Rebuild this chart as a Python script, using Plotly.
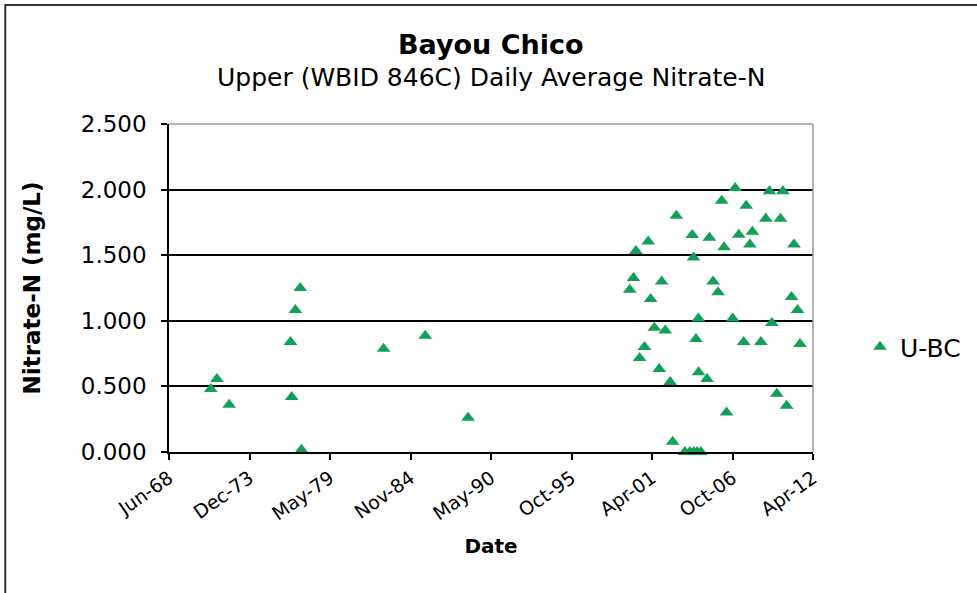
import plotly.graph_objects as go
from datetime import date, timedelta

# ---- data ----
sample_dates = [
    "1971-04-15", "1971-09-15", "1972-07-15", "1976-09-15", "1976-10-15",
    "1977-01-15", "1977-05-15", "1977-06-15", "1983-01-15", "1985-11-15",
    "1988-10-15",
    "2006-12-15", "2009-04-15", "2010-03-15", "2006-01-15", "2007-09-15",
    "2002-12-15", "2009-01-15", "2010-01-15", "2004-01-15", "2005-03-15",
    "2007-03-15", "2008-02-15", "2001-01-15", "2000-03-15", "2006-03-15",
    "2007-12-15", "2010-12-15", "2004-02-15", "2000-01-15", "2001-12-15",
    "2005-06-15", "1999-10-15", "2005-10-15", "2001-03-15", "2010-10-15",
    "2011-03-15", "2004-06-15", "2006-10-15", "2001-06-15", "2002-03-15",
    "2009-06-15", "2004-04-15", "2007-07-15", "2008-09-15", "2011-05-15",
    "2000-10-15", "2000-06-15", "2001-10-15", "2004-06-20", "2005-01-15",
    "2002-07-15", "2009-10-15", "2010-06-15", "2006-05-15", "2002-09-15",
    "2003-07-15", "2003-11-15", "2004-02-20", "2004-05-15", "2004-08-15",
]
nitrate_mg_l = [
    0.48, 0.556, 0.36, 0.838, 0.419,
    1.082, 1.25, 0.018, 0.787, 0.886,
    0.261,
    2.013, 1.987, 1.987, 1.915, 1.877,
    1.80, 1.778, 1.778, 1.654, 1.633,
    1.656, 1.679, 1.605, 1.532, 1.56,
    1.582, 1.582, 1.483, 1.326, 1.30,
    1.30, 1.237, 1.217, 1.166, 1.181,
    1.082, 1.018, 1.018, 0.947, 0.927,
    0.983, 0.861, 0.838, 0.838, 0.823,
    0.80, 0.716, 0.633, 0.607, 0.556,
    0.534, 0.444, 0.353, 0.302, 0.079,
    0.0, 0.0, 0.0, 0.0, 0.0,
]
series_name = "U-BC"
title_text = "Bayou Chico"
subtitle_text = "Upper (WBID 846C) Daily Average Nitrate-N"
y_ticks = [0, 0.5, 1.0, 1.5, 2.0, 2.5]

# Excel-style date axis: min serial 25000 (1968-06-11), major unit 2000 days
axis_start = date(1968, 6, 11)
major_unit_days = 2000
n_major = 8
x_ticks = [axis_start + timedelta(days=major_unit_days * i) for i in range(n_major + 1)]

FONT = "DejaVu Sans, Liberation Sans, Arial, sans-serif"
GREEN = "#12A058"

# plot-area geometry helpers (pixels -> paper)
W, H = 977, 593
L, T = 169, 124
PW, PH = 645, 328
R, B = W - L - PW, H - T - PH


def px_x(px):
    return (px - L) / PW


def px_y(py):
    return (T + PH - py) / PH


fig = go.Figure()
fig.add_trace(go.Scatter(
    x=sample_dates, y=nitrate_mg_l, mode="markers", name=series_name,
    marker=dict(symbol="triangle-up", size=12, color=GREEN, line=dict(width=0)),
    cliponaxis=False,
))

fig.update_layout(
    width=W, height=H,
    margin=dict(l=L, r=R, t=T, b=B),
    paper_bgcolor="white", plot_bgcolor="white",
    font=dict(family=FONT, color="black"),
    showlegend=True,
    legend=dict(x=px_x(860), y=px_y(347), xanchor="left", yanchor="middle",
                font=dict(size=25, family=FONT), bgcolor="rgba(0,0,0,0)",
                itemwidth=30),
    annotations=[
        dict(text="<b>" + title_text + "</b>", x=0.5, y=px_y(44),
             xref="paper", yref="paper", xanchor="center", yanchor="middle",
             showarrow=False, font=dict(size=27, family=FONT)),
        dict(text=subtitle_text, x=0.5, y=px_y(77),
             xref="paper", yref="paper", xanchor="center", yanchor="middle",
             showarrow=False, font=dict(size=25, family=FONT)),
    ],
    shapes=[
        dict(type="rect", xref="paper", yref="paper",
             x0=px_x(5), x1=px_x(1000), y0=px_y(620), y1=px_y(5),
             line=dict(color="#333333", width=2), layer="above"),
        dict(type="line", xref="paper", yref="paper", x0=0, x1=1, y0=1, y1=1,
             line=dict(color="#9a9a9a", width=1.5)),
        dict(type="line", xref="paper", yref="paper", x0=1, x1=1, y0=0, y1=1,
             line=dict(color="#9a9a9a", width=1.5)),
    ],
)

fig.update_xaxes(
    type="date",
    range=[x_ticks[0], x_ticks[-1]],
    tickmode="array", tickvals=x_ticks, tickformat="%b-%y",
    tickangle=-35, tickfont=dict(size=19, family=FONT),
    ticks="outside", ticklen=6, tickcolor="black", tickwidth=1.5,
    showline=True, linecolor="black", linewidth=1.5,
    showgrid=False, zeroline=False,
    title=dict(text="<b>Date</b>", font=dict(size=20, family=FONT), standoff=16),
)
fig.update_yaxes(
    range=[0, 2.5],
    tickmode="array", tickvals=y_ticks, tickformat=".3f",
    tickfont=dict(size=23, family=FONT),
    ticks="outside", ticklen=6, tickcolor="black", tickwidth=1.5,
    ticklabelstandoff=10,
    showline=True, linecolor="black", linewidth=1.5,
    showgrid=True, gridcolor="black", gridwidth=1.5,
    zeroline=False,
    title=dict(text="<b>Nitrate-N (mg/L)</b>", font=dict(size=23, family=FONT), standoff=34),
)

fig.write_html(
    "out.html",
    config={"displayModeBar": False},
    post_script="document.body.style.margin='0';document.body.style.padding='0';",
)
